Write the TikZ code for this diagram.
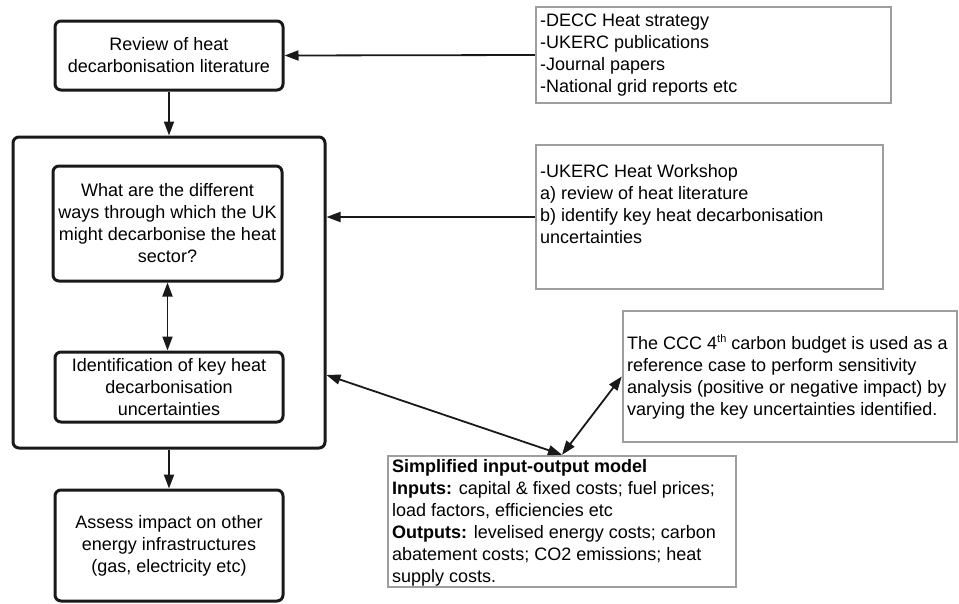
\documentclass[tikz,border=0pt]{standalone}
\usepackage{fontspec}
\setmainfont{Liberation Sans}
\usetikzlibrary{arrows.meta,positioning,calc}
\tikzset{
    step color/.style={black!90},
    note color/.style={black!38},
    step box/.style={draw,step color,line width=3pt,rounded corners=6pt,inner sep=0pt,align=center,text=black},
    note box/.style={draw,note color,line width=2.5pt,inner sep=0pt},
    note text/.style={anchor=north west,inner sep=0pt,align=left},
    arr/.style={-{Triangle[length=14pt,width=10pt]},line width=1.8pt,black!90},
    darr/.style={{Triangle[length=14pt,width=10pt]}-{Triangle[length=14pt,width=10pt]},line width=1.8pt,black!90},
}
\tikzstyle{every node}=[font=\fontsize{18}{22}\selectfont]

\begin{document}
\begin{tikzpicture}[x=1pt,y=-1pt]
        \useasboundingbox (0,0) rectangle (959,603);

        \node[step box, minimum width=228pt, minimum height=69pt] (review) at (169,55.5)
        {Review of heat\\decarbonisation literature};
        \node[step box, minimum width=312pt, minimum height=311pt] (outer) at (169,292.5) {};
        \node[step box, minimum width=229pt, minimum height=115pt] (ways) at (167.5,223.5)
        {What are the different\\ways through which the UK\\might decarbonise the heat\\sector?};
        \node[step box, minimum width=228pt, minimum height=70pt] (uncert) at (169,387)
        {Identification of key heat\\decarbonisation\\uncertainties};
        \node[step box, minimum width=228pt, minimum height=111pt] (assess) at (169,545.5)
        {Assess impact on other\\energy infrastructures\\(gas, electricity etc)};

        \node[note box, minimum width=355pt, minimum height=96pt] (sources) at (713.5,55) {};
        \node[note text] (sourcestext) at (540,14)
        {-DECC Heat strategy\\-UKERC publications\\-Journal papers\\-National grid reports etc};
        \node[note box, minimum width=347pt, minimum height=144pt] (workshop) at (709.5,217) {};
        \node[note text] (workshoptext) at (540,164)
        {-UKERC Heat Workshop\\a) review of heat literature\\b) identify key heat decarbonisation\\uncertainties};
        \node[note box, minimum width=334pt, minimum height=131pt] (ccc) at (790,376.5) {};
        \node[note text] (ccctext) at (627,334)
        {The CCC 4\raisebox{7pt}{\fontsize{11}{11}\selectfont th} carbon budget is used as a\\reference case to perform sensitivity\\analysis (positive or negative impact) by\\varying the key uncertainties identified.};
        \node[note box, minimum width=348pt, minimum height=131pt] (model) at (562,521.5) {};
        \node[note text] (modeltext) at (392,459)
        {\textbf{Simplified input-output model}\\\textbf{Inputs:} capital \& fixed costs; fuel prices;\\load factors, efficiencies etc\\\textbf{Outputs:} levelised energy costs; carbon\\abatement costs; CO2 emissions; heat\\supply costs.};

        \coordinate (modelhook) at ($(outer.east)+(0,82.5)$);

        \draw[arr] (sources.west) -- (review.east);
        \draw[arr] (review.south) -- (outer.north);
        \draw[arr] (workshop.west) -- (workshop.west -| outer.east);
        \draw[darr] (ways.south) -- (ways.south |- uncert.north);
        \draw[darr] (modelhook) -- (model.north);
        \draw[darr] (model.north) -- (ccc.west);
        \draw[arr] (outer.south) -- (assess.north);
    \end{tikzpicture}
\end{document}
